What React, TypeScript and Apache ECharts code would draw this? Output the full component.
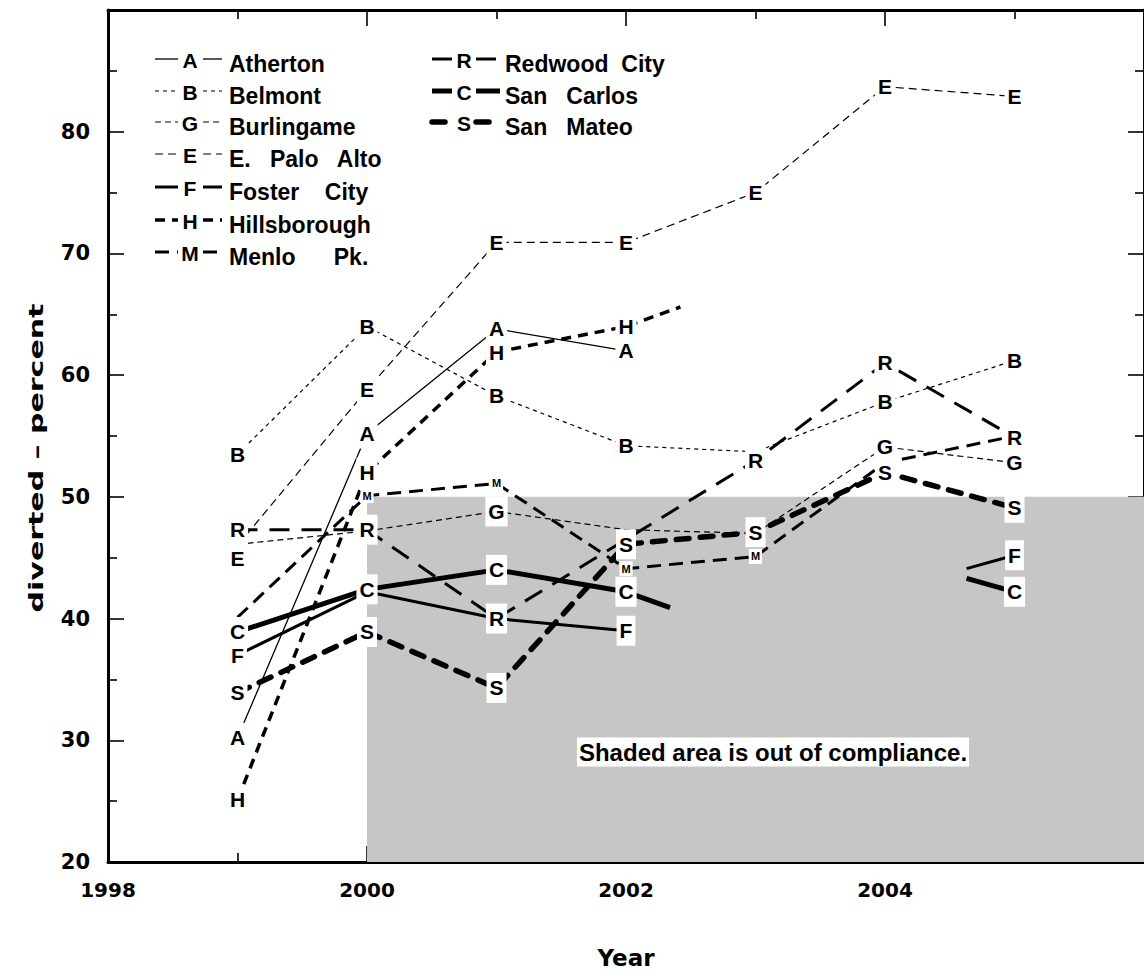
import React, { useEffect, useRef } from 'react';
import * as echarts from 'echarts';

// ---- data ----
const years = [1999, 2000, 2001, 2002, 2003, 2004, 2005];

const atherton = [30.2, 55.2, 63.8, 62.0, null, null, null];
const belmont = [53.5, 64.0, 58.3, 54.2, 53.7, 57.8, 61.2];
const burlingame = [46.1, 47.2, 48.8, 47.3, 47.0, 54.1, 52.8];
const eastPaloAlto = [46.0, 58.8, 70.9, 70.9, 75.0, 83.7, 82.9];
const fosterCity = [37.0, 42.2, 40.0, 39.0, null, null, 45.2];
const hillsborough = [25.1, 52.0, 61.9, 64.0, null, null, null];
const menloPark = [40.1, 50.1, 51.1, 44.1, 45.1, 52.8, 55.0];
const redwoodCity = [47.3, 47.3, 40.0, 46.5, 53.0, 61.0, 54.9];
const sanCarlos = [38.9, 42.4, 44.0, 42.2, null, null, 42.2];
const sanMateo = [33.9, 38.9, 34.3, 46.1, 47.1, 52.0, 49.1];

// partial line pieces that the original plot draws next to missing years
const fosterCityPieces = [[2004.63, 44.1]];
const hillsboroughPieces = [[2002.42, 65.6]];
const sanCarlosPieces = [[2002.34, 40.9], [2004.63, 43.3]];

const complianceLimit = 50;
const complianceStartYear = 2000;
const xMin = 1998;
const xMax = 2006;
const yMin = 20;
const yMax = 90;

const cities = [
  { letter: 'A', name: 'Atherton', legend: 'Atherton', values: atherton, pieces: [] as number[][] },
  { letter: 'B', name: 'Belmont', legend: 'Belmont', values: belmont, pieces: [] as number[][] },
  { letter: 'G', name: 'Burlingame', legend: 'Burlingame', values: burlingame, pieces: [] as number[][] },
  { letter: 'E', name: 'E. Palo Alto', legend: 'E.   Palo   Alto', values: eastPaloAlto, pieces: [] as number[][] },
  { letter: 'F', name: 'Foster City', legend: 'Foster    City', values: fosterCity, pieces: fosterCityPieces },
  { letter: 'H', name: 'Hillsborough', legend: 'Hillsborough', values: hillsborough, pieces: hillsboroughPieces },
  { letter: 'M', name: 'Menlo Pk.', legend: 'Menlo      Pk.', values: menloPark, pieces: [] as number[][] },
  { letter: 'R', name: 'Redwood City', legend: 'Redwood  City', values: redwoodCity, pieces: [] as number[][] },
  { letter: 'C', name: 'San Carlos', legend: 'San   Carlos', values: sanCarlos, pieces: sanCarlosPieces },
  { letter: 'S', name: 'San Mateo', legend: 'San   Mateo', values: sanMateo, pieces: [] as number[][] },
];

// markers that are covered by neighbouring markers in the original
const hiddenLabels: Record<string, number[]> = {
  B: [2003],
  G: [1999, 2000, 2002, 2003],
  F: [2000, 2001],
  M: [1999, 2004, 2005],
  R: [2002],
};
const labelOffsets: Record<string, Record<number, number[]>> = { E: { 1999: [0, 13] } };

// ---- styles ----
const styles: Record<string, { width: number; dash: number[] | null; cap?: string }> = {
  A: { width: 1.3, dash: null },
  B: { width: 1.2, dash: [4, 4] },
  G: { width: 1.2, dash: [6, 4] },
  E: { width: 1.2, dash: [8, 5] },
  F: { width: 3, dash: null },
  H: { width: 3.5, dash: [10, 7] },
  M: { width: 3, dash: [14, 8] },
  R: { width: 3, dash: [20, 12] },
  C: { width: 5, dash: null },
  S: { width: 5.5, dash: [13, 11], cap: 'round' },
};

const LABEL_FONT = 'Liberation Sans';
const AXIS_FONT = 'DejaVu Sans';

function buildLineData(values: (number | null)[], pieces: number[][]) {
  const pts: any[] = years.map((y, i) => [y, values[i] == null ? '-' : values[i]]);
  pieces.forEach((p) => pts.push([p[0], p[1]]));
  pts.sort((a, b) => a[0] - b[0]);
  return pts;
}

function buildLabelData(letter: string, values: (number | null)[]) {
  const out: any[] = [];
  years.forEach((y, i) => {
    const v = values[i];
    if (v == null) return;
    if (hiddenLabels[letter] && hiddenLabels[letter].includes(y)) return;
    const item: any = { value: [y, v] };
    if (labelOffsets[letter] && labelOffsets[letter][y]) {
      item.label = { offset: labelOffsets[letter][y] };
    }
    out.push(item);
  });
  return out;
}

function makeAxisCommon() {
  return {
    axisLine: { show: true, onZero: false, lineStyle: { color: '#000', width: 3 } },
    axisTick: { show: true, inside: true, length: 16, lineStyle: { color: '#000', width: 1.6 } },
    minorTick: { show: true, splitNumber: 2, length: 9, lineStyle: { color: '#000', width: 1.6 } },
    splitLine: { show: false },
    minorSplitLine: { show: false },
  };
}

function buildLegend() {
  const cols = [
    { sx1: 155, sx2: 178, lx: 190, rx1: 203, rx2: 222, tx: 229 },
    { sx1: 432, sx2: 452, lx: 464, rx1: 476, rx2: 500, tx: 505 },
  ];
  const rowsY = [62, 94, 125, 157, 190, 223, 255];
  const els: any[] = [];
  cities.forEach((c, i) => {
    const col = i < 7 ? cols[0] : cols[1];
    const y = i < 7 ? rowsY[i] : rowsY[i - 7];
    const st = styles[c.letter];
    const lineStyle = {
      stroke: '#000',
      lineWidth: st.width,
      lineDash: st.dash || undefined,
      lineCap: st.cap || 'butt',
    };
    els.push({ type: 'line', z: 100, shape: { x1: col.sx1, y1: y - 3, x2: col.sx2, y2: y - 3 }, style: lineStyle });
    els.push({ type: 'line', z: 100, shape: { x1: col.rx1, y1: y - 3, x2: col.rx2, y2: y - 3 }, style: lineStyle });
    els.push({
      type: 'text', z: 100, x: col.lx, y: y - 2,
      style: { text: c.letter, fill: '#000', fontFamily: LABEL_FONT, fontWeight: 'bold', fontSize: 21, align: 'center', verticalAlign: 'middle', textAlign: 'center', textVerticalAlign: 'middle' },
    });
    els.push({
      type: 'text', z: 100, x: col.tx, y: y + 2,
      style: { text: c.legend, fill: '#000', fontFamily: LABEL_FONT, fontWeight: 'bold', fontSize: 23, align: 'left', verticalAlign: 'middle', textAlign: 'left', textVerticalAlign: 'middle' },
    });
  });
  return els;
}

export default function App() {
  const ref = useRef<HTMLDivElement>(null);

  useEffect(() => {
    document.body.style.margin = '0';
    if (!ref.current) return;
    const chart = echarts.init(ref.current, undefined, { renderer: 'svg' });

    const series: any[] = [];
    // shaded non-compliance region
    series.push({
      type: 'line',
      name: 'out of compliance',
      data: [[complianceStartYear, complianceLimit], [xMax, complianceLimit]],
      symbol: 'none',
      showSymbol: false,
      lineStyle: { width: 0, color: '#c6c6c6' },
      areaStyle: { color: '#c6c6c6', opacity: 1, origin: 'start' },
      z: 1,
      silent: true,
    });
    cities.forEach((c) => {
      const st = styles[c.letter];
      series.push({
        type: 'line',
        name: c.name,
        data: buildLineData(c.values, c.pieces),
        showSymbol: false,
        symbol: 'none',
        connectNulls: false,
        lineStyle: { color: '#000', width: st.width, type: st.dash || 'solid', cap: st.cap || 'butt' },
        z: 3,
        silent: true,
      });
    });
    cities.forEach((c) => {
      const small = c.letter === 'M';
      series.push({
        type: 'scatter',
        name: c.name + ' markers',
        data: buildLabelData(c.letter, c.values),
        symbolSize: 1,
        itemStyle: { color: 'rgba(0,0,0,0)', opacity: 1 },
        label: {
          show: true,
          position: 'inside',
          formatter: c.letter,
          color: '#000',
          opacity: 1,
          fontFamily: LABEL_FONT,
          fontWeight: 'bold',
          fontSize: small ? 11 : 21,
          lineHeight: small ? 12 : 24,
          backgroundColor: '#fff',
          padding: small ? [2, 2, 1, 2] : [3, 3, 3, 3],
        },
        z: 10,
        silent: true,
      });
    });

    const option: any = {
      animation: false,
      backgroundColor: '#fff',
      grid: { left: 108, top: 10, width: 1040, height: 852 },
      xAxis: [
        {
          type: 'value', position: 'bottom', min: xMin, max: xMax, interval: 2,
          ...makeAxisCommon(),
          axisLabel: { show: true, showMaxLabel: false, margin: 18, color: '#000', fontFamily: AXIS_FONT, fontWeight: 'bold', fontSize: 20, formatter: (v: number) => String(v) },
          name: 'Year', nameLocation: 'middle', nameGap: 84,
          nameTextStyle: { color: '#000', fontFamily: AXIS_FONT, fontWeight: 'bold', fontSize: 23 },
        },
        {
          type: 'value', position: 'top', min: xMin, max: xMax, interval: 2,
          ...makeAxisCommon(),
          axisLabel: { show: false },
        },
      ],
      yAxis: [
        {
          type: 'value', position: 'left', min: yMin, max: yMax, interval: 10,
          ...makeAxisCommon(),
          axisLabel: { show: true, showMaxLabel: false, margin: 18, color: '#000', fontFamily: AXIS_FONT, fontWeight: 'bold', fontSize: 21, formatter: (v: number) => String(v) },
        },
        {
          type: 'value', position: 'right', min: yMin, max: yMax, interval: 10,
          ...makeAxisCommon(),
          axisLabel: { show: false },
        },
      ],
      graphic: [
        ...buildLegend(),
        {
          type: 'text', z: 100, x: 36, y: 458, rotation: Math.PI / 2, scaleX: 1.5,
          style: { text: 'diverted – percent', fill: '#000', fontFamily: AXIS_FONT, fontWeight: 'bold', fontSize: 20, align: 'center', verticalAlign: 'middle', textAlign: 'center', textVerticalAlign: 'middle' },
        },
        {
          type: 'text', z: 100, x: 773, y: 752,
          style: { text: 'Shaded area is out of compliance.', fill: '#000', fontFamily: LABEL_FONT, fontWeight: 'bold', fontSize: 24, align: 'center', verticalAlign: 'middle', textAlign: 'center', textVerticalAlign: 'middle', backgroundColor: '#fff', padding: [3, 2, 2, 2] },
        },
      ],
      series,
    };
    chart.setOption(option);
    return () => chart.dispose();
  }, []);

  return <div ref={ref} style={{ position: 'absolute', left: 0, top: 0, width: 1144, height: 978 }} />;
}
